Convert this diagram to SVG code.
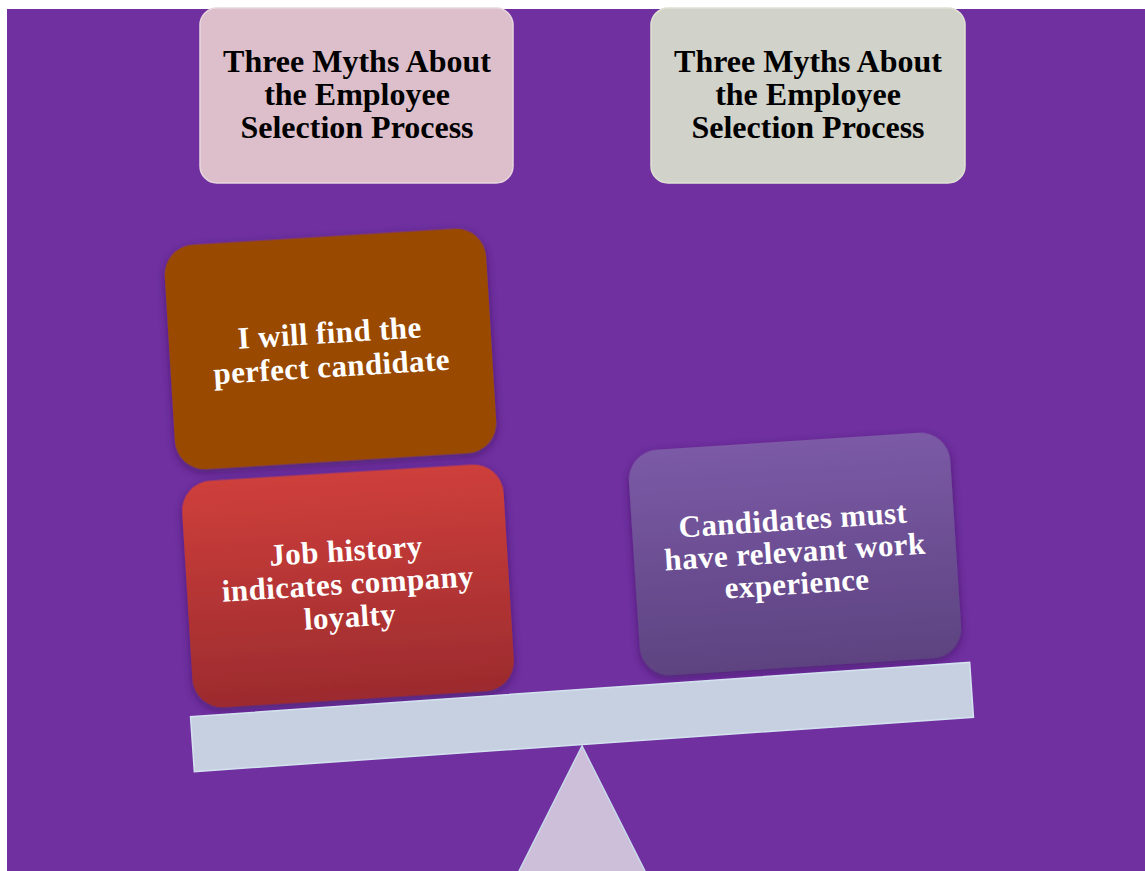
<svg xmlns="http://www.w3.org/2000/svg" width="1145" height="871" viewBox="0 0 1145 871">
<style>
.hd{font-family:"Liberation Serif","Times New Roman",serif;font-weight:bold;font-size:32px;fill:#000;text-anchor:middle}
.wt{font-family:"Liberation Serif","Times New Roman",serif;font-weight:bold;font-size:31px;letter-spacing:0.4px;fill:#fff;text-anchor:middle}
</style>
<defs>
<linearGradient id="gRed" x1="0" y1="0" x2="0" y2="1">
<stop offset="0" stop-color="#CE3F3B"/><stop offset="1" stop-color="#9C2B2E"/>
</linearGradient>
<linearGradient id="gPur" x1="0" y1="0" x2="0" y2="1">
<stop offset="0" stop-color="#7B5AA6"/><stop offset="1" stop-color="#5D4380"/>
</linearGradient>
<filter id="sh" x="-10%" y="-10%" width="120%" height="125%">
<feDropShadow dx="0" dy="3" stdDeviation="4" flood-color="#2e0a4f" flood-opacity="0.55"/>
</filter>
</defs>
<rect width="1145" height="871" fill="#ffffff"/>
<rect x="7" y="9" width="1138" height="862" fill="#7030A0"/>

<g id="head-left">
<rect x="200" y="8" width="313" height="175" rx="17" fill="#DCBFCB" stroke="#E8D6DD" stroke-width="1.5"/>
<text class="hd" x="357" y="72">Three Myths About</text>
<text class="hd" x="357" y="105">the Employee</text>
<text class="hd" x="357" y="138">Selection Process</text>
</g>
<g id="head-right">
<rect x="651" y="8" width="314" height="175" rx="17" fill="#D1D2CA" stroke="#DFE2D3" stroke-width="1.5"/>
<text class="hd" x="808" y="72">Three Myths About</text>
<text class="hd" x="808" y="105">the Employee</text>
<text class="hd" x="808" y="138">Selection Process</text>
</g>

<g id="fulcrum">
<polygon points="582,746 514.5,880 649.5,880" fill="#CDBFDA" stroke="#C9D8EA" stroke-width="1.5"/>
</g>

<g id="myth-perfect" transform="translate(330.5,349) rotate(-3.5)">
<rect x="-161" y="-112.5" width="322" height="225" rx="30" fill="#994806" filter="url(#sh)"/>
<text class="wt" x="0" y="-6">I will find the</text>
<text class="wt" x="0" y="28">perfect candidate</text>
</g>
<g id="myth-history" transform="translate(348,586) rotate(-3.5)">
<rect x="-161" y="-113.5" width="322" height="227" rx="30" fill="url(#gRed)" filter="url(#sh)"/>
<text class="wt" x="0" y="-25">Job history</text>
<text class="wt" x="0" y="8">indicates company</text>
<text class="wt" x="0" y="41">loyalty</text>
</g>
<g id="myth-experience" transform="translate(795,554) rotate(-3.7)">
<rect x="-161" y="-113" width="322" height="226" rx="30" fill="url(#gPur)" filter="url(#sh)"/>
<text class="wt" x="0" y="-24">Candidates must</text>
<text class="wt" x="0" y="8">have relevant work</text>
<text class="wt" x="0" y="40">experience</text>
</g>

<g id="plank" transform="translate(582,717) rotate(-4)">
<rect x="-390.5" y="-27.5" width="781" height="55" fill="#C7D0E1" stroke="#D3E2EE" stroke-width="1.5"/>
</g>
<g id="connectors"></g>
</svg>
